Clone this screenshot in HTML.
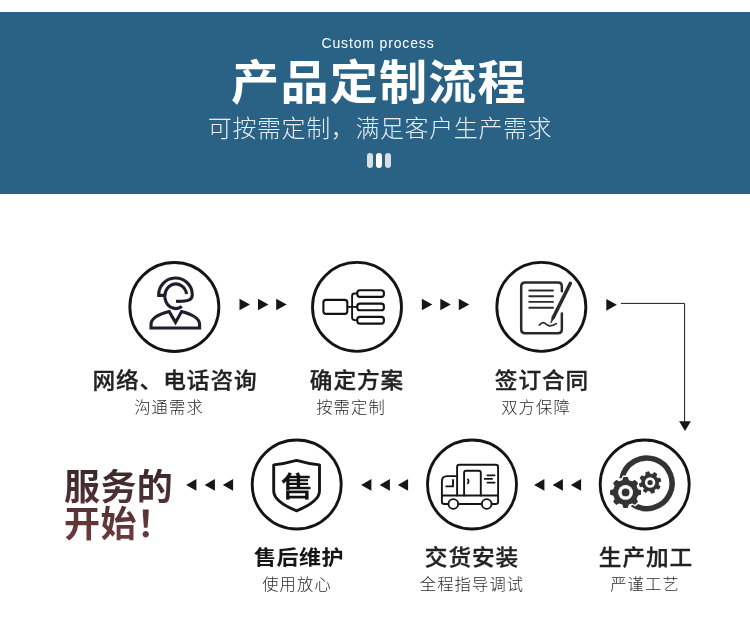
<!DOCTYPE html>
<html lang="zh-CN">
<head>
<meta charset="utf-8">
<title>产品定制流程</title>
<style>
html,body{margin:0;padding:0;}
body{width:750px;height:630px;position:relative;overflow:hidden;background:#fff;
  font-family:"Liberation Sans","Noto Sans CJK SC",sans-serif;color:#1a1a1a;}
.hdr{position:absolute;left:0;top:12px;width:750px;height:181.5px;background:#2a6285;}
.abs{position:absolute;white-space:nowrap;}
.c{transform:translateX(-50%);text-align:center;}
.en{left:378.3px;top:34px;font-size:14px;line-height:18px;color:#fff;letter-spacing:.85px;}
.ttl{left:378.6px;top:53.1px;font-size:46.3px;line-height:60px;font-weight:700;color:#fff;letter-spacing:1.1px;transform:translateX(-50%) scaleX(1.04);}
.sub{left:379.8px;top:111.6px;font-size:24px;line-height:34px;font-weight:300;color:#e6edf2;letter-spacing:.6px;}
.pill{position:absolute;top:153px;width:6.3px;height:15px;border-radius:3.2px;background:#dadde1;}
.lb{font-size:21.8px;line-height:30px;font-weight:500;color:#222;-webkit-text-stroke:.3px #222;letter-spacing:.9px;margin-left:.4px;transform:translateX(-50%) scaleX(1.04);}
.sm{font-size:16.3px;line-height:22px;font-weight:300;color:#2a2a2a;letter-spacing:1.15px;margin-left:-.5px;}
.big{left:63.8px;top:468.5px;font-size:36px;line-height:37.3px;font-weight:700;letter-spacing:.4px;
  color:#5a3033;background:linear-gradient(180deg,#3a292b 0%,#6f3b3e 100%);-webkit-background-clip:text;background-clip:text;-webkit-text-fill-color:transparent;}
svg{position:absolute;left:0;top:0;}
.abs,svg{will-change:transform;}
svg text{font-family:"Liberation Sans","Noto Sans CJK SC",sans-serif;}
</style>
</head>
<body>
<div class="hdr"></div>
<div class="abs c en">Custom process</div>
<div class="abs c ttl">产品定制流程</div>
<div class="abs c sub">可按需定制，满足客户生产需求</div>
<div class="pill" style="left:366.7px"></div>
<div class="pill" style="left:375.7px;background:#fff"></div>
<div class="pill" style="left:384.8px"></div>

<div class="abs c lb" style="left:174.3px;top:366.2px">网络、电话咨询</div>
<div class="abs c sm" style="left:169px;top:395.6px">沟通需求</div>
<div class="abs c lb" style="left:356.5px;top:366.2px">确定方案</div>
<div class="abs c sm" style="left:351.5px;top:395.6px">按需定制</div>
<div class="abs c lb" style="left:541.2px;top:366.2px">签订合同</div>
<div class="abs c sm" style="left:536.7px;top:395.6px">双方保障</div>

<div class="abs c lb" style="left:298.4px;top:542.9px;font-size:20.8px;font-weight:700;letter-spacing:.4px;margin-left:.2px;color:#151515;-webkit-text-stroke:0;transform:translateX(-50%) scaleX(1.06)">售后维护</div>
<div class="abs c sm" style="left:297.5px;top:573px">使用放心</div>
<div class="abs c lb" style="left:471.7px;top:543.1px">交货安装</div>
<div class="abs c sm" style="left:472.6px;top:573px">全程指导调试</div>
<div class="abs c lb" style="left:645.3px;top:543.1px">生产加工</div>
<div class="abs c sm" style="left:645px;top:573px">严谨工艺</div>

<div class="abs big">服务的<br>开始！</div>

<svg width="750" height="630" viewBox="0 0 750 630">
<!-- circles -->
<g fill="none" stroke="#141414" stroke-width="2.85">
<circle cx="174.35" cy="307" r="44.5"/>
<circle cx="357" cy="306.9" r="44.5"/>
<circle cx="541.35" cy="306.9" r="44.5"/>
<circle cx="296.7" cy="484.5" r="44.5"/>
<circle cx="472" cy="484.5" r="44.5"/>
<circle cx="644.7" cy="484.5" r="44.5"/>
</g>
<!-- arrows -->
<g fill="#161616">
<path d="M239.50 298.80 L250.00 304.50 L239.50 310.20Z M258.00 298.80 L268.50 304.50 L258.00 310.20Z M276.20 298.80 L286.70 304.50 L276.20 310.20Z M421.85 298.80 L432.35 304.50 L421.85 310.20Z M440.30 298.80 L450.80 304.50 L440.30 310.20Z M458.80 298.80 L469.30 304.50 L458.80 310.20Z M606.30 298.90 L616.90 304.80 L606.30 310.70Z"/>
<path d="M196.40 479.10 L186.10 484.90 L196.40 490.70Z M214.90 479.10 L204.60 484.90 L214.90 490.70Z M233.10 479.10 L222.80 484.90 L233.10 490.70Z M371.40 479.10 L361.10 484.90 L371.40 490.70Z M389.90 479.10 L379.60 484.90 L389.90 490.70Z M408.10 479.10 L397.80 484.90 L408.10 490.70Z M544.40 479.10 L534.10 484.90 L544.40 490.70Z M562.90 479.10 L552.60 484.90 L562.90 490.70Z M581.10 479.10 L570.80 484.90 L581.10 490.70Z"/>
<path d="M679.1 421.2H690.9L685 431Z"/>
</g>
<path d="M620.9 303.4H684.6V422" fill="none" stroke="#1a1a1a" stroke-width="1"/>

<!-- icon 1: headset agent -->
<g fill="none" stroke="#1f1e2e" stroke-width="3.1" stroke-linejoin="miter">
<path d="M164 295.4H158.7A16.8 16.8 0 0 1 192.3 294.2C192.4 300.3 188 301.6 176 301.3"/>
<path d="M186.66 294.08A11 12.3 0 1 0 181.9 306.5"/>
<path d="M151 328V324.5C151 319 158 314.5 169.2 311.6L175.5 322.4L181.6 311.6C192.5 314.5 199.6 319 199.6 324.5V328Z"/>
</g>

<!-- icon 2: flow chart -->
<g fill="none" stroke="#111" stroke-width="2.1">
<rect x="323.4" y="299.9" width="23.9" height="14" rx="2.6"/>
<rect x="357.3" y="290.2" width="26.6" height="6.7" rx="2.6"/>
<rect x="357.3" y="303.6" width="26.6" height="6.7" rx="2.6"/>
<rect x="357.3" y="316.9" width="26.6" height="6.7" rx="2.6"/>
</g>
<path d="M347.1 306.9H357.3M357.3 293.5H354.6Q352.1 293.5 352.1 296V317.6Q352.1 320.1 354.6 320.1H357.3" fill="none" stroke="#111" stroke-width="1.85"/>

<!-- icon 3: contract -->
<g fill="none" stroke="#2a2a2a" stroke-linecap="round">
<path d="M561.85 291.3V286.4Q561.85 282.4 557.85 282.4H525.2Q521.2 282.4 521.2 286.4V329.3Q521.2 333.3 525.2 333.3H557.85Q561.85 333.3 561.85 329.3V313.6" stroke-width="2.5"/>
<path d="M529.3 290.5H553M529.3 296.3H553M529.3 301.9H553M529.3 307.7H553" stroke-width="1.9"/>
<path d="M539.4 325C541 323.2 542.3 322.5 543.5 322.7C545.6 323 547 325.8 549.6 325.8C552.2 325.8 554.6 325 556.2 323.6" stroke-width="1.8"/>
<path d="M570.4 283.3L553.4 317.2" stroke-width="3.5"/>
</g>
<path d="M552.1 316.5L554.7 317.8L550.7 323.2Z" fill="#2a2a2a" stroke="#2a2a2a" stroke-width=".6" stroke-linejoin="round"/>

<!-- icon 4: shield -->
<path d="M273.7 464.9C282 464 290 462.3 296.6 460.4C303 462.3 311 464 319.5 464.9V491C319.5 498 312 504.5 296.6 510.8C281 504.5 273.7 498 273.7 491Z" fill="none" stroke="#161616" stroke-width="2.9" stroke-linejoin="round"/>
<text x="0" y="0" font-size="28.8" font-weight="500" text-anchor="middle" fill="#111" stroke="#111" stroke-width=".25" transform="translate(297 497) scale(1.13 1)">售</text>

<!-- icon 5: truck -->
<g fill="none" stroke="#141414" stroke-width="1.9" stroke-linecap="round" stroke-linejoin="round">
<path d="M457.1 495.5V467Q457.1 464.8 459.3 464.8H495.9Q498.1 464.8 498.1 467V495.5"/>
<path d="M457.1 476.1H447.2Q441.9 476.1 441.9 481.4V495.5"/>
<path d="M441.9 495.5H498.1V501.8Q498.1 504 495.9 504H444.1Q441.9 504 441.9 501.8Z"/>
<path d="M464.1 495.5V472.7Q464.1 470.7 466.1 470.7H478.8Q480.8 470.7 480.8 472.7V495.5"/>
<path d="M453 480V486.4H446.3"/>
<path d="M467.8 479.3Q469.4 481.3 467.8 483.4" stroke-width="1.7"/>
<path d="M487.4 475.3H494.6M484.6 478.8H492.2M487.4 482.6H494.6" stroke-width="1.8"/>
<circle cx="453.3" cy="504" r="4.85" fill="#fff"/>
<circle cx="486.7" cy="504" r="4.85" fill="#fff"/>
</g>

<!-- icon 6: gears -->
<path d="M621.96 478.57 A25.30 25.30 0 1 1 632.29 504.12" fill="none" stroke="#333" stroke-width="5.5"/>
<path d="M622.22 479.23 L623.16 476.18 L628.04 476.18 L628.98 479.23 L632.52 480.69 L635.34 479.21 L638.79 482.66 L637.31 485.48 L638.77 489.02 L641.82 489.96 L641.82 494.84 L638.77 495.78 L637.31 499.32 L638.79 502.14 L635.34 505.59 L632.52 504.11 L628.98 505.57 L628.04 508.62 L623.16 508.62 L622.22 505.57 L618.68 504.11 L615.86 505.59 L612.41 502.14 L613.89 499.32 L612.43 495.78 L609.38 494.84 L609.38 489.96 L612.43 489.02 L613.89 485.48 L612.41 482.66 L615.86 479.21 L618.68 480.69Z" fill="#fff" stroke="#fff" stroke-width="1.5" stroke-linejoin="round"/>
<path d="M622.94 480.49 L623.84 477.50 L627.36 477.50 L628.26 480.49 L632.14 482.10 L634.89 480.62 L637.38 483.11 L635.90 485.86 L637.51 489.74 L640.50 490.64 L640.50 494.16 L637.51 495.06 L635.90 498.94 L637.38 501.69 L634.89 504.18 L632.14 502.70 L628.26 504.31 L627.36 507.30 L623.84 507.30 L622.94 504.31 L619.06 502.70 L616.31 504.18 L613.82 501.69 L615.30 498.94 L613.69 495.06 L610.70 494.16 L610.70 490.64 L613.69 489.74 L615.30 485.86 L613.82 483.11 L616.31 480.62 L619.06 482.10Z" fill="#333" stroke="#333" stroke-width="1.2" stroke-linejoin="round"/>
<circle cx="625.6" cy="492.4" r="7.4" fill="#fff"/>
<circle cx="625.6" cy="492.4" r="3.9" fill="#333"/>
<path d="M646.09 475.12 L645.86 472.57 L648.80 471.78 L649.88 474.10 L652.49 474.45 L654.13 472.48 L656.76 474.00 L655.88 476.41 L657.48 478.49 L660.03 478.26 L660.82 481.20 L658.50 482.28 L658.15 484.89 L660.12 486.53 L658.60 489.16 L656.19 488.28 L654.11 489.88 L654.34 492.43 L651.40 493.22 L650.32 490.90 L647.71 490.55 L646.07 492.52 L643.44 491.00 L644.32 488.59 L642.72 486.51 L640.17 486.74 L639.38 483.80 L641.70 482.72 L642.05 480.11 L640.08 478.47 L641.60 475.84 L644.01 476.72Z" fill="#333" stroke="#333" stroke-width="1" stroke-linejoin="round"/>
<circle cx="650.1" cy="482.5" r="5.2" fill="#fff"/>
<circle cx="650.1" cy="482.5" r="2.6" fill="#333"/>
</svg>
</body>
</html>
